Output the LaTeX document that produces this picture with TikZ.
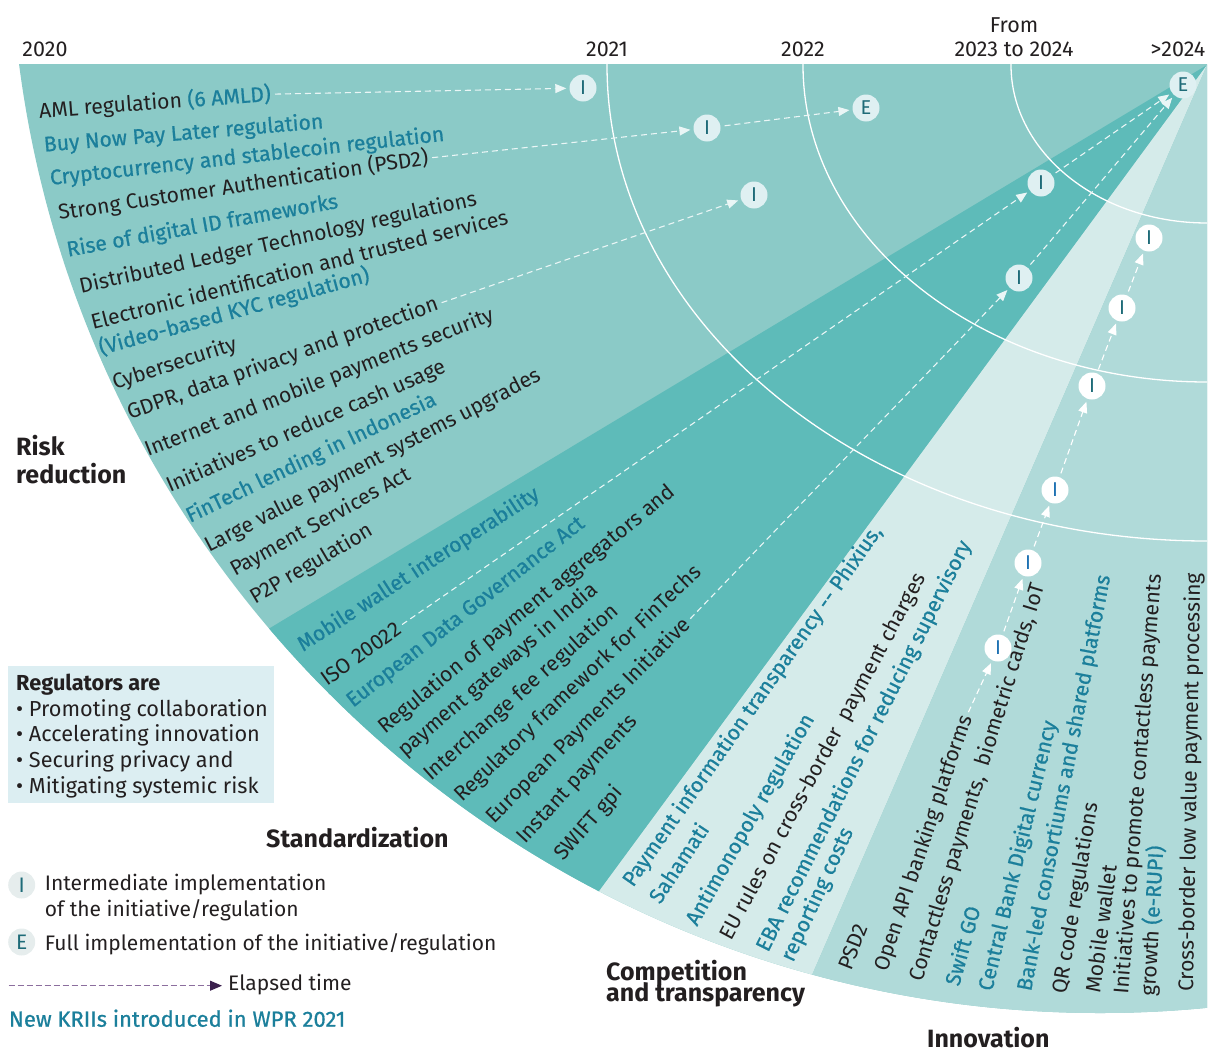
\documentclass[tikz,border=0pt]{standalone}
\usepackage{fontspec}
\setmainfont{Fira Sans}
\newfontfamily\medf[FakeBold=0.7]{Fira Sans}
\usetikzlibrary{arrows.meta,calc}
\definecolor{riskc}{HTML}{8BCAC7}
\definecolor{stdc}{HTML}{5EBBB9}
\definecolor{compc}{HTML}{D5EBEA}
\definecolor{innoc}{HTML}{B0DAD9}
\definecolor{ink}{HTML}{231F20}
\definecolor{tealt}{HTML}{1B7F9B}
\definecolor{mkfill}{HTML}{DFF0F2}
\definecolor{mktext}{HTML}{1E6B78}
\definecolor{mkblue}{HTML}{1F72B3}
\definecolor{flowc}{HTML}{EAF6F6}
\definecolor{boxc}{HTML}{DCEEF2}
\definecolor{legc}{HTML}{E6EDED}
\definecolor{purpl}{HTML}{8C6E9E}
\definecolor{purpd}{HTML}{3A1F4D}
\newcommand\fs{\fontsize{21.2}{25}\selectfont}
\newcommand\fl{\fontsize{21}{25}\selectfont}
\newcommand\fy{\fontsize{21.5}{25}\selectfont}
\newcommand\fr{\fontsize{21.7}{25}\selectfont}
\newcommand\fb{\fontsize{25}{29}\selectfont\bfseries}
\begin{document}
\begin{tikzpicture}[x=1pt,y=-1pt,
  lb/.style={anchor=base west,inner sep=0pt,font=\fs,text=ink},
  tl/.style={anchor=base west,inner sep=0pt,font=\medf\fs,text=tealt},
  mk/.style={circle,fill=mkfill,text=mktext,inner sep=0pt,minimum size=27pt,font=\fontsize{20}{20}\selectfont},
  mkw/.style={mk,fill=white},
  mkb/.style={mk,fill=white,text=mkblue},
  flow/.style={draw=flowc,dash pattern=on 6pt off 4pt,line width=1.1pt,-{Triangle[length=11pt,width=9pt,color=flowc,fill=flowc]},shorten <=4pt,shorten >=3pt},
  flowi/.style={flow,draw=white,-{Triangle[length=11pt,width=9pt,color=white,fill=white]}},
  yr/.style={anchor=base,inner sep=0pt,font=\fy,text=ink},
  reg/.style={anchor=base west,inner sep=0pt,font=\fb,text=ink},
  leg/.style={anchor=base west,inner sep=0pt,font=\fl,text=ink},
  lgc/.style={circle,fill=legc,text=mktext,inner sep=0pt,minimum size=27pt,font=\fontsize{21}{21}\selectfont},
  yarc/.style={draw=white,line width=1.3pt}
]
\useasboundingbox (0,0) rectangle (1215,1052);
\coordinate (apex) at (1207,65);

% ---------- fan sectors ----------
\begin{scope}
  \clip (0,64) rectangle (1207,1052);
  \clip (1100,-77) circle [radius=1090pt];
  \fill[riskc] (0,0) rectangle (1215,1052);
  \fill[stdc] (apex) -- ($(apex)!5!(265,631)$) -- ($(apex)!5!(597,894)$) -- cycle;
  \fill[compc] (apex) -- ($(apex)!5!(597,894)$) -- ($(apex)!5!(812,975)$) -- cycle;
  \fill[innoc] (apex) -- ($(apex)!5!(812,975)$) -- (1400,4615) -- (1400,65) -- cycle;
  \draw[yarc] (apex) ellipse [x radius=600pt, y radius=476pt];
  \draw[yarc] (apex) ellipse [x radius=404pt, y radius=317pt];
  \draw[yarc] (apex) ellipse [x radius=196pt, y radius=158pt];
\end{scope}

% ---------- year labels ----------
\node[yr] (y20) at (45,56) {2020};
\node[yr] (y21) at (607,56) {2021};
\node[yr] (y22) at (803,56) {2022};
\node[yr] (y23a) at (1014,32) {From};
\node[yr] (y23b) at (1014,56) {2023 to 2024};
\node[yr] (y24) at (1178,56) {>2024};

% ---------- risk reduction texts ----------
\node[lb,rotate=4.3] (r1) at (39.5,118.3) {AML regulation {\medf\color{tealt}(6 AMLD)}};
\node[tl,rotate=4.8] (r2) at (44.3,151.7) {Buy Now Pay Later regulation};
\node[tl,rotate=6.4] (r3) at (50.6,185) {Cryptocurrency and stablecoin regulation};
\node[lb,rotate=8.5] (r4) at (59.3,220) {Strong Customer Authentication (PSD2)};
\node[tl,rotate=10.2] (r5) at (68,256.7) {Rise of digital ID frameworks};
\node[lb,rotate=12.5] (r6) at (81,293.3) {Distributed Ledger Technology regulations};
\node[lb,rotate=14.3] (r7) at (93,330) {Electronic identification and trusted services};
\node[tl,rotate=15.3] (r8) at (101,355) {(Video-based KYC regulation)};
\node[lb,rotate=18] (r9) at (115,390) {Cybersecurity};
\node[lb,rotate=19.6] (r10) at (130,420) {GDPR, data privacy and protection};
\node[lb,rotate=21.5] (r11) at (148,457) {Internet and mobile payments security};
\node[lb,rotate=23.6] (r12) at (170,493) {Initiatives to reduce cash usage};
\node[tl,rotate=25.6] (r13) at (190,523) {FinTech lending in Indonesia};
\node[lb,rotate=27.4] (r14) at (209,553) {Large value payment systems upgrades};
\node[lb,rotate=28.9] (r15) at (235,577) {Payment Services Act};
\node[lb,rotate=30.5] (r16) at (255,605) {P2P regulation};

% ---------- standardization texts ----------
\node[tl,rotate=33] (s1) at (303,652) {Mobile wallet interoperability};
\node[lb,rotate=35.5] (s2) at (327,687) {ISO 20022};
\node[tl,rotate=38] (s3) at (353,708) {European Data Governance Act};
\node[lb,rotate=39.6] (s4) at (385,735) {Regulation of payment aggregators and};
\node[lb,rotate=40.6] (s5) at (405,758) {payment gateways in India};
\node[lb,rotate=41.8] (s6) at (431,782) {Interchange fee regulation};
\node[lb,rotate=43.6] (s7) at (462,803) {Regulatory framework for FinTechs};
\node[lb,rotate=45.2] (s8) at (494,825) {European Payments Initiative};
\node[lb,rotate=47.3] (s9) at (525,845) {Instant payments};
\node[lb,rotate=48.5] (s10) at (563,862) {SWIFT gpi};

% ---------- competition texts ----------
\node[tl,rotate=55] (c1) at (633,888) {Payment information transparency -- Phixius,};
\node[tl,rotate=56.5] (c2) at (660,905) {Sahamati};
\node[tl,rotate=60.5] (c3) at (697,927) {Antimonopoly regulation};
\node[lb,rotate=61.8] (c4) at (731,942) {EU rules on cross-border\ \ payment charges};
\node[tl,rotate=63.5] (c5) at (768,953) {EBA recommendations for reducing supervisory};
\node[tl,rotate=65.3] (c6) at (793,963) {reporting costs};

% ---------- innovation texts ----------
\node[lb,rotate=68.5] (i1) at (851,972) {PSD2};
\node[lb,rotate=71.5] (i2) at (887,973) {Open API banking platforms};
\node[lb,rotate=72.8] (i3) at (922,983) {Contactless payments,\ \ biometric cards, IoT};
\node[tl,rotate=74.5] (i4) at (959,987) {Swift GO};
\node[tl,rotate=76.5] (i5) at (992,992) {Central Bank Digital currency};
\node[tl,rotate=79.2] (i6) at (1031,992) {Bank-led consortiums and shared platforms};
\node[lb,rotate=80.5] (i7) at (1066,995) {QR code regulations};
\node[lb,rotate=82.5] (i8) at (1100,994) {Mobile wallet};
\node[lb,rotate=85.5] (i9) at (1128,995) {Initiatives to promote contactless payments};
\node[lb,rotate=86.8] (i10) at (1155,997) {growth {\medf\color{tealt}(e-RUPI)}};
\node[lb,rotate=89] (i11) at (1193,992) {Cross-border low value payment processing};

% ---------- markers ----------
\node[mk] (m1) at (583,88) {I};
\node[mk] (m2) at (707,128) {I};
\node[mk] (m3) at (866,108) {E};
\node[mk] (m4) at (754,195) {I};
\node[mk] (m5) at (1041,183) {I};
\node[mk] (m6) at (1019,278) {I};
\node[mk] (m7) at (1183,85) {E};
\node[mkb] (n1) at (998,648) {I};
\node[mkb] (n2) at (1028,563) {I};
\node[mkb] (n3) at (1055,490) {I};
\node[mkw] (n4) at (1092,386) {I};
\node[mkw] (n5) at (1122,308) {I};
\node[mkw] (n6) at (1149,238) {I};

% ---------- flows ----------
\draw[flow] (r1.east) -- (m1);
\draw[flow] (r4.east) -- (m2);
\draw[flow] (m2) -- (m3);
\draw[flow] (r10.east) -- (m4);
\draw[flow] (s2.east) -- (m5);
\draw[flow] (m5) -- (m7);
\draw[flow] (s8.east) -- (m6);
\draw[flow] (m6) -- (m7);
\draw[flowi] (i2.east) -- (n1);
\draw[flowi] (n1) -- (n2);
\draw[flowi] (n2) -- (n3);
\draw[flowi] (n3) -- (n4);
\draw[flowi] (n4) -- (n5);
\draw[flowi] (n5) -- (n6);

% ---------- sector labels ----------
\node[reg] (lr1) at (16,455) {Risk};
\node[reg] (lr2) at (16,483) {reduction};
\node[reg] (ls) at (266,847) {Standardization};
\node[reg] (lc1) at (606,980) {Competition};
\node[reg] (lc2) at (606,1001) {and transparency};
\node[reg] (li) at (927,1047) {Innovation};

% ---------- regulators box ----------
\node[fill=boxc,anchor=north west,inner sep=0pt,minimum width=265.5pt,minimum height=136.7pt] (regbox) at (8,666) {};
\node[anchor=base west,inner sep=0pt,font=\fr\bfseries,text=ink] (rg0) at (16,690) {Regulators are};
\node[anchor=base west,inner sep=0pt,font=\fr,text=ink] (rg1) at (16,716) {• Promoting collaboration};
\node[anchor=base west,inner sep=0pt,font=\fr,text=ink] (rg2) at (16,741) {• Accelerating innovation};
\node[anchor=base west,inner sep=0pt,font=\fr,text=ink] (rg3) at (16,767) {• Securing privacy and};
\node[anchor=base west,inner sep=0pt,font=\fr,text=ink] (rg4) at (16,793) {• Mitigating systemic risk};

% ---------- legend ----------
\node[lgc] (lgI) at (21.7,885) {I};
\node[leg] (lgIt) at (44.7,890) {Intermediate implementation};
\node[leg] (lgIt2) at (44.7,916) {of the initiative/regulation};
\node[lgc] (lgE) at (21.7,942) {E};
\node[leg] (lgEt) at (44.7,950) {Full implementation of the initiative/regulation};
\coordinate (el0) at (8.7,985.7);
\node[leg] (elt) at (228,990.7) {Elapsed time};
\draw[purpl,dash pattern=on 6pt off 3pt,line width=1pt,-{Triangle[length=12pt,width=10pt,color=purpd,fill=purpd]},shorten >=6pt] (el0) -- (elt.west |- el0);
\node[anchor=base west,inner sep=0pt,font=\medf\fontsize{22}{25}\selectfont,text=tealt] (kri) at (8.7,1026.7) {New KRIIs introduced in WPR 2021};
\end{tikzpicture}
\end{document}
